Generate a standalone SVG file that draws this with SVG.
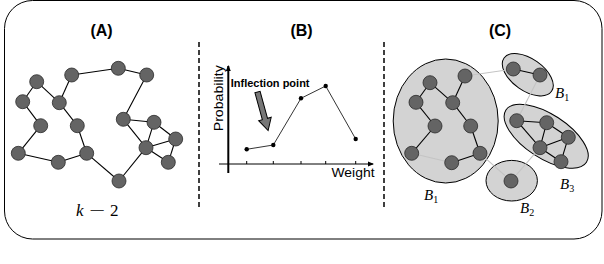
<svg xmlns="http://www.w3.org/2000/svg" width="604" height="264" viewBox="0 0 604 264">
<style>
.node{fill:#646464;stroke:#2a2a2a;stroke-width:0.8}
.e{stroke:#000;stroke-width:1.1;fill:none}
.g{stroke:#c4c4c4;stroke-width:1.1;fill:none}
.blob{fill:#d3d3d3;stroke:#000;stroke-width:1}
.title{font-family:"Liberation Sans",Arial,sans-serif;font-weight:bold;font-size:16px;text-anchor:middle}
.sans{font-family:"Liberation Sans",Arial,sans-serif}
.dash{stroke:#000;stroke-width:1.5;stroke-dasharray:5,3}
</style>
<defs>
<marker id="ah" markerWidth="6" markerHeight="6" refX="5" refY="3" orient="auto" markerUnits="userSpaceOnUse">
<path d="M0,0.5 L6,3 L0,5.5 Z" fill="#000"/>
</marker>
</defs>
<rect x="4.5" y="0.5" width="597.5" height="238.5" rx="28" ry="28" fill="#fff" stroke="#000" stroke-width="1"/>

<text class="title" x="101.5" y="36">(A)</text>
<text class="title" x="301.5" y="36">(B)</text>
<text class="title" x="500" y="36">(C)</text>

<g id="dividers">
<line class="dash" x1="199" y1="42" x2="199" y2="209"/>
<line class="dash" x1="384" y1="42" x2="384" y2="209"/>
</g>

<g id="blobs">
<ellipse id="blobB1" class="blob" cx="445.7" cy="121" rx="52.5" ry="62"/>
<ellipse id="blobB1b" class="blob" cx="527.8" cy="74.7" rx="29" ry="16" transform="rotate(35 527.8 74.7)"/>
<ellipse id="blobB3" class="blob" cx="546.2" cy="136.2" rx="48" ry="22" transform="rotate(33 546.2 136.2)"/>
<ellipse id="blobB2" class="blob" cx="511.7" cy="180.7" rx="25.7" ry="20.3"/>
</g>

<g id="connectors">
<line class="e" x1="36.7" y1="81.7" x2="22.7" y2="101.7"/>
<line class="e" x1="36.7" y1="81.7" x2="59.3" y2="102.7"/>
<line class="e" x1="59.3" y1="102.7" x2="71.7" y2="75"/>
<line class="e" x1="71.7" y1="75" x2="118.3" y2="68.3"/>
<line class="e" x1="118.3" y1="68.3" x2="146.7" y2="75"/>
<line class="e" x1="146.7" y1="75" x2="123.3" y2="119.3"/>
<line class="e" x1="22.7" y1="101.7" x2="40.7" y2="125.7"/>
<line class="e" x1="40.7" y1="125.7" x2="18.3" y2="153.3"/>
<line class="e" x1="18.3" y1="153.3" x2="58.3" y2="162.3"/>
<line class="e" x1="58.3" y1="162.3" x2="86.7" y2="153.3"/>
<line class="e" x1="59.3" y1="102.7" x2="77.3" y2="125.7"/>
<line class="e" x1="77.3" y1="125.7" x2="86.7" y2="153.3"/>
<line class="e" x1="86.7" y1="153.3" x2="119" y2="181"/>
<line class="e" x1="119" y1="181" x2="146" y2="147.7"/>
<line class="e" x1="123.3" y1="119.3" x2="146" y2="147.7"/>
<line class="e" x1="123.3" y1="119.3" x2="154" y2="122.3"/>
<line class="e" x1="154" y1="122.3" x2="146" y2="147.7"/>
<line class="e" x1="154" y1="122.3" x2="175.7" y2="139"/>
<line class="e" x1="175.7" y1="139" x2="146" y2="147.7"/>
<line class="e" x1="146" y1="147.7" x2="168.3" y2="162.3"/>
<line class="e" x1="168.3" y1="162.3" x2="175.7" y2="139"/>
<line class="g" x1="465" y1="76" x2="513.3" y2="69"/>
<line class="g" x1="411.7" y1="153.3" x2="451.7" y2="162.7"/>
<line class="g" x1="480" y1="153.3" x2="511" y2="181"/>
<line class="g" x1="511" y1="181" x2="540" y2="147.7"/>
<line class="g" x1="540" y1="75" x2="516.7" y2="120.7"/>
<line class="e" x1="430" y1="82.7" x2="416" y2="102.3"/>
<line class="e" x1="430" y1="82.7" x2="452.7" y2="102.7"/>
<line class="e" x1="452.7" y1="102.7" x2="465" y2="76"/>
<line class="e" x1="416" y1="102.3" x2="435" y2="126"/>
<line class="e" x1="435" y1="126" x2="411.7" y2="153.3"/>
<line class="e" x1="452.7" y1="102.7" x2="470.7" y2="126"/>
<line class="e" x1="470.7" y1="126" x2="480" y2="153.3"/>
<line class="e" x1="480" y1="153.3" x2="451.7" y2="162.7"/>
<line class="e" x1="513.3" y1="69" x2="540" y2="75"/>
<line class="e" x1="516.7" y1="120.7" x2="546.7" y2="122.7"/>
<line class="e" x1="516.7" y1="120.7" x2="540" y2="147.7"/>
<line class="e" x1="546.7" y1="122.7" x2="540" y2="147.7"/>
<line class="e" x1="546.7" y1="122.7" x2="568.3" y2="137.3"/>
<line class="e" x1="568.3" y1="137.3" x2="540" y2="147.7"/>
<line class="e" x1="540" y1="147.7" x2="561" y2="161.7"/>
<line class="e" x1="561" y1="161.7" x2="568.3" y2="137.3"/>
</g>

<g id="a1"><circle class="node" cx="36.7" cy="81.7" r="7"/></g>
<g id="a2"><circle class="node" cx="71.7" cy="75" r="7"/></g>
<g id="a3"><circle class="node" cx="118.3" cy="68.3" r="7"/></g>
<g id="a4"><circle class="node" cx="146.7" cy="75" r="7"/></g>
<g id="a5"><circle class="node" cx="22.7" cy="101.7" r="7"/></g>
<g id="a6"><circle class="node" cx="59.3" cy="102.7" r="7"/></g>
<g id="a7"><circle class="node" cx="40.7" cy="125.7" r="7"/></g>
<g id="a8"><circle class="node" cx="77.3" cy="125.7" r="7"/></g>
<g id="a9"><circle class="node" cx="123.3" cy="119.3" r="7"/></g>
<g id="a10"><circle class="node" cx="154" cy="122.3" r="7"/></g>
<g id="a11"><circle class="node" cx="175.7" cy="139" r="7"/></g>
<g id="a12"><circle class="node" cx="146" cy="147.7" r="7"/></g>
<g id="a13"><circle class="node" cx="168.3" cy="162.3" r="7"/></g>
<g id="a14"><circle class="node" cx="18.3" cy="153.3" r="7"/></g>
<g id="a15"><circle class="node" cx="58.3" cy="162.3" r="7"/></g>
<g id="a16"><circle class="node" cx="86.7" cy="153.3" r="7"/></g>
<g id="a17"><circle class="node" cx="119" cy="181" r="7"/></g>

<g id="c1"><circle class="node" cx="430" cy="82.7" r="7"/></g>
<g id="c2"><circle class="node" cx="465" cy="76" r="7"/></g>
<g id="c3"><circle class="node" cx="513.3" cy="69" r="7"/></g>
<g id="c4"><circle class="node" cx="540" cy="75" r="7"/></g>
<g id="c5"><circle class="node" cx="416" cy="102.3" r="7"/></g>
<g id="c6"><circle class="node" cx="452.7" cy="102.7" r="7"/></g>
<g id="c7"><circle class="node" cx="435" cy="126" r="7"/></g>
<g id="c8"><circle class="node" cx="470.7" cy="126" r="7"/></g>
<g id="c9"><circle class="node" cx="516.7" cy="120.7" r="7"/></g>
<g id="c10"><circle class="node" cx="546.7" cy="122.7" r="7"/></g>
<g id="c11"><circle class="node" cx="568.3" cy="137.3" r="7"/></g>
<g id="c12"><circle class="node" cx="540" cy="147.7" r="7"/></g>
<g id="c13"><circle class="node" cx="561" cy="161.7" r="7"/></g>
<g id="c14"><circle class="node" cx="411.7" cy="153.3" r="7"/></g>
<g id="c15"><circle class="node" cx="451.7" cy="162.7" r="7"/></g>
<g id="c16"><circle class="node" cx="480" cy="153.3" r="7"/></g>
<g id="c17"><circle class="node" cx="511" cy="181" r="7"/></g>

<text id="labelA" x="76" y="215.5" font-family="'Liberation Serif','Times New Roman',serif" font-size="17"><tspan font-style="italic">k</tspan><tspan x="89" textLength="16" lengthAdjust="spacingAndGlyphs">−</tspan><tspan x="110">2</tspan></text>

<g id="labelsC" font-family="'Liberation Serif','Times New Roman',serif" font-size="15">
<text x="424" y="200"><tspan font-style="italic">B</tspan><tspan font-size="10" dy="3">1</tspan></text>
<text x="555" y="98"><tspan font-style="italic">B</tspan><tspan font-size="10" dy="3">1</tspan></text>
<text x="560" y="189"><tspan font-style="italic">B</tspan><tspan font-size="10" dy="3">3</tspan></text>
<text x="520" y="213"><tspan font-style="italic">B</tspan><tspan font-size="10" dy="3">2</tspan></text>
</g>

<g id="chart">
<line x1="228.3" y1="173" x2="228.3" y2="66" stroke="#000" stroke-width="2" marker-end="url(#ah)"/>
<line x1="219" y1="164" x2="373" y2="164" stroke="#000" stroke-width="1" marker-end="url(#ah)"/>
<g stroke="#000" stroke-width="1">
<line x1="246.7" y1="161" x2="246.7" y2="164"/>
<line x1="273.3" y1="161" x2="273.3" y2="164"/>
<line x1="301" y1="161" x2="301" y2="164"/>
<line x1="325.7" y1="161" x2="325.7" y2="164"/>
<line x1="355.7" y1="161" x2="355.7" y2="164"/>
</g>
<polyline points="246.7,149.3 273.3,145 301,98.3 325.7,86 355.7,139" fill="none" stroke="#000" stroke-width="0.8"/>
<g fill="#000">
<circle cx="246.7" cy="149.3" r="2.2"/>
<circle cx="273.3" cy="145" r="2.2"/>
<circle cx="301" cy="98.3" r="2.2"/>
<circle cx="325.7" cy="86" r="2.2"/>
<circle cx="355.7" cy="139" r="2.2"/>
</g>
<polygon points="-2.7,0 2.7,0 2.7,28 6.5,28 0,40 -6.5,28 -2.7,28" fill="#777" stroke="#000" stroke-width="1" transform="translate(257.5 92) rotate(-15.4)"/>
<text class="sans" x="230.7" y="87" font-size="11" font-weight="bold">Inflection point</text>
<text class="sans" x="331.5" y="177" font-size="12.5" textLength="43" lengthAdjust="spacingAndGlyphs">Weight</text>
<text class="sans" transform="translate(222.5 98.3) rotate(-90)" text-anchor="middle" font-size="13" textLength="66" lengthAdjust="spacingAndGlyphs">Probability</text>
</g>
</svg>
